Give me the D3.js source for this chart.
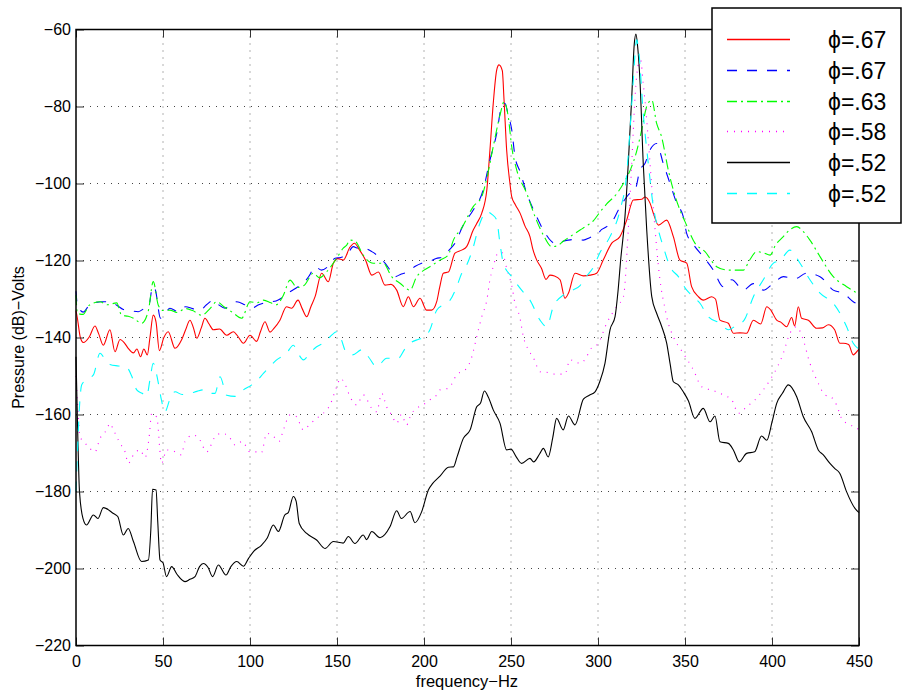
<!DOCTYPE html>
<html>
<head>
<meta charset="utf-8">
<script src="https://cdn.jsdelivr.net/npm/d3@7"></script>
<style>
  body { margin: 0; background: #fff; }
  svg { display: block; font-family: "Liberation Sans", Arial, sans-serif; }
  .tick line { stroke: #333; }
</style>
</head>
<body>
<div id="chart"></div>
<script>
// tick labels
const xTicks = [0, 50, 100, 150, 200, 250, 300, 350, 400, 450];
const yTicks = [-220, -200, -180, -160, -140, -120, -100, -80, -60];

// legend labels, one per series (same order as series below)
const labels = ['\u03d5=.67', '\u03d5=.67', '\u03d5=.63', '\u03d5=.58', '\u03d5=.52', '\u03d5=.52'];

// series values: [frequency Hz, pressure dB]
const red67 = [[0,-133],[0.8,-135],[2.5,-140],[4.2,-141.3],[7.7,-139.8],[10.9,-137],[13,-139],[15.7,-142],[19.5,-138],[22.4,-143.7],[25.3,-140.5],[28,-141.5],[30,-142.8],[33,-144],[35,-143],[37.1,-145],[39,-143],[41,-144.5],[42.5,-140],[44.4,-134.2],[46,-136],[47.9,-143.4],[50.5,-140],[53,-138.5],[56.9,-142.8],[60.7,-140.6],[63,-138],[65.5,-135.5],[67.5,-137.5],[69.4,-140.2],[72,-137.5],[74.1,-135],[76.5,-136.5],[78.9,-138],[82.5,-137.8],[86.6,-139.4],[90.4,-138.5],[93.5,-140],[96.2,-141.5],[100,-139.4],[103.8,-141],[106,-138.5],[108.6,-135.9],[111.5,-138.6],[114,-137.5],[117.2,-135.5],[121,-132],[123.9,-132.4],[127.6,-130.3],[130,-132.5],[132.6,-134.6],[135,-132],[137.4,-129.4],[141.2,-123.3],[145,-125.5],[147.9,-120.7],[150.5,-119.5],[153.6,-119.9],[157.5,-116.5],[160,-115.5],[163,-117.3],[166.5,-120],[170,-123.8],[173.8,-123],[177.6,-126.4],[181,-126.2],[184.3,-127.7],[188.1,-132],[191,-129.4],[193.9,-132],[197.7,-129.8],[201.5,-132.9],[204.4,-132.9],[207.3,-130.7],[209,-127],[211.1,-123.3],[214,-123],[217.8,-118.1],[221.6,-117.3],[224.5,-116.4],[228.3,-112.1],[230.3,-110.4],[233.2,-107.7],[236.1,-101.7],[237.9,-91.3],[239.8,-79.2],[241.8,-70.5],[243.1,-69.2],[245,-70.7],[246,-78.3],[247.5,-91.3],[249.4,-100],[250.4,-103.4],[252.5,-105.5],[255.2,-107.7],[258,-111],[260.9,-113.8],[262.5,-117],[264.8,-119.9],[267.5,-122],[270.1,-124.9],[272.4,-123.8],[275,-124],[278.2,-125],[281,-129.8],[283,-128.5],[286.8,-123.3],[291.6,-124],[295.5,-123.8],[299.2,-123.3],[303,-119.9],[307.9,-115.5],[312.6,-113.8],[316.5,-109.5],[320.3,-104.3],[325.1,-104.1],[327,-103.5],[329.9,-105.1],[332,-108],[334.7,-110.8],[339.5,-109.5],[343.3,-113.8],[347.1,-119.9],[351,-120.7],[353.8,-126.8],[357.7,-129.4],[360.5,-130.3],[365.3,-129.4],[367.5,-130],[370.1,-135.5],[374.9,-136.3],[377.8,-138.9],[381.6,-138.8],[385.4,-138.9],[389.3,-135.5],[393.5,-136.5],[397,-132],[399.5,-133],[402.7,-135.5],[405,-136],[408.4,-137.2],[411.3,-134.8],[413,-137],[415.1,-132],[417,-135],[420.9,-135.5],[425.7,-137.6],[429,-137.5],[432.4,-136.7],[436,-138],[439,-141.5],[441,-141.5],[444,-141.8],[446.7,-144.5],[449.6,-143.2],[450,-143]];

const blue67 = [[0,-128],[0.8,-131.6],[4.2,-133.4],[7,-132],[10,-131.1],[14.8,-130.7],[19.5,-130.7],[23.4,-131.6],[27.2,-132.7],[31,-133],[35.8,-133.3],[39,-132.5],[42,-131.5],[44,-126.8],[45.5,-127.5],[48.6,-135],[51,-134],[54,-132.4],[58.8,-133.3],[63,-132],[67,-132.5],[71.3,-132.9],[75,-131.5],[78.9,-130.3],[82,-131.5],[85.6,-132.4],[89,-131.5],[92.4,-130.7],[97,-131.5],[101,-132.4],[105,-131.5],[110,-130.8],[115,-130.5],[119,-129.5],[123,-128.1],[127,-127],[130.7,-125.9],[134,-124],[137.4,-121.6],[141,-122.5],[145,-121.5],[148.9,-119.4],[152,-119.2],[155.6,-118.6],[159.4,-116.4],[162,-116.8],[165,-116.8],[170,-117.7],[174,-119],[177.6,-120.7],[180.5,-122.5],[183.3,-124.2],[187,-123.5],[191,-122.9],[195,-121.5],[198.7,-120.7],[203,-120.3],[207,-119.5],[211.1,-119],[214,-117.5],[217.8,-115.5],[222.6,-110.8],[228.3,-106.9],[234,-101.7],[237.9,-93.9],[241.8,-87],[244.6,-80],[246.5,-79.2],[248.4,-82.2],[250.4,-86],[252.3,-93],[255.2,-96.9],[259,-102.5],[263.8,-107.7],[268.6,-112.1],[273.4,-115.1],[276.2,-115.8],[280,-115],[283,-114.7],[287,-114.5],[291.6,-114.7],[295.5,-114],[299.2,-113.4],[302,-112],[305,-111.2],[308,-110],[311.7,-106.9],[314.6,-104.7],[318.4,-102.5],[321.3,-101.7],[324.1,-96.5],[327,-94.8],[329.9,-91.3],[333.7,-89.6],[337.5,-94.8],[341.4,-100],[345.2,-105.1],[349,-108.6],[351,-113],[355.7,-116.4],[360.5,-119],[366.3,-122.5],[372,-126.8],[376.9,-125],[383.5,-127.7],[389.3,-126],[395,-127.7],[400.8,-125.9],[406.5,-124.2],[413,-124.8],[419.9,-123.3],[427.6,-124.2],[435.2,-127.7],[441,-128.5],[446.7,-130.7],[450,-131.5]];

const green63 = [[0,-129],[0.8,-133.7],[4,-134],[7.7,-131.6],[13.8,-130.7],[18,-131.5],[23.4,-131],[26.2,-134.2],[30,-134.5],[33,-135],[37.7,-136.3],[41.6,-133],[44.4,-125.5],[47.3,-131.6],[50,-133],[54,-132.9],[58,-133.5],[63,-132.5],[67,-133],[72.2,-134.2],[77,-132.5],[80.9,-130.7],[85,-132],[90,-133.5],[95.2,-135],[100,-130.7],[104,-131],[107.7,-130.3],[112,-131],[115,-131.5],[119.2,-129],[123,-125.1],[127,-127],[131,-126.5],[136.4,-123.3],[140,-124.5],[144.1,-122.9],[149.8,-119.4],[153.6,-116.8],[155.6,-116],[157.5,-114.7],[160.5,-115],[165,-118.6],[170.9,-120.7],[176.6,-120.7],[181.4,-124.2],[186.2,-125.9],[192,-127.7],[195.8,-124.2],[200,-122.5],[203.4,-121.6],[209.2,-119.9],[213.9,-118.6],[216.9,-114.7],[221.6,-111.6],[228.3,-106],[233.2,-103.4],[236.1,-98.6],[239.8,-90.4],[243.7,-82.2],[246,-78.8],[248.4,-82.6],[250.4,-90.4],[253.3,-96.5],[259,-102.5],[263.8,-108.6],[268.6,-113.4],[273.4,-116.4],[276.5,-116.2],[280,-115],[283.9,-113.8],[289.7,-112.1],[293.5,-111],[297.3,-109.7],[301,-107.5],[305,-105.3],[310.7,-102.7],[315.5,-99.3],[319,-96],[322,-92],[325.1,-86.1],[328,-80],[330.9,-78.3],[333.7,-84.4],[336.5,-87.8],[340.4,-96.5],[343.3,-101.7],[347.1,-106.9],[350,-109.9],[355.7,-115.5],[361.5,-117.7],[368.2,-121.6],[374.9,-122.5],[383.5,-122.5],[387,-120],[391.2,-117.7],[395,-118],[398.9,-118.6],[402,-116],[406.5,-113.8],[410.3,-112],[414.2,-111.2],[418,-112.5],[421.8,-114.7],[427.6,-119],[435.2,-124.2],[442.9,-126.8],[448.7,-128.5],[450,-129]];

const magenta58 = [[0,-150],[1,-158],[2.3,-165.8],[4.5,-167],[7.1,-168.4],[10.9,-169.7],[13.8,-166.2],[17.6,-164],[19.5,-162.3],[21.5,-164],[25.3,-167.5],[28.2,-169.7],[30,-172.7],[33,-170.5],[36.8,-169.2],[39.7,-171.2],[42,-166],[43.5,-159.7],[46.4,-160.7],[49.2,-172.7],[52.1,-169.2],[56,-169.5],[60.5,-170.5],[62.6,-167.1],[67.4,-165.3],[71,-166.5],[75.1,-169.7],[79.9,-165.8],[83.7,-164.9],[87.5,-165.5],[91.4,-167.9],[95.5,-167],[100,-169.7],[103.5,-169.7],[106.5,-170],[109.6,-164.9],[113,-165.5],[116.7,-167],[119.2,-164],[123,-160.1],[126.5,-160.5],[130.7,-164],[134.5,-162.5],[138.3,-161],[142.1,-159.7],[146,-157.5],[149.8,-152.8],[152,-150.6],[154.5,-152],[157.5,-155.4],[161.3,-157.5],[165.1,-154.9],[170,-158.4],[172.8,-159.3],[175.7,-154.5],[178.5,-158],[181.4,-160.1],[184.3,-162.3],[187,-160],[190,-162.7],[192.5,-160],[195.8,-158.4],[199.5,-157.5],[203.4,-156.2],[207.3,-154.9],[209.2,-153.6],[214,-153.2],[218.8,-149.7],[224.5,-148],[227.5,-145],[230.3,-139.8],[233.2,-134.6],[236.1,-130.3],[237.9,-125],[239.8,-121.6],[242.7,-118],[245,-118],[247.5,-122],[250.4,-126.5],[252.3,-131.1],[255,-134.6],[257.1,-139.8],[260,-143.2],[263,-145.4],[266.7,-148.9],[270,-149],[275,-149.5],[281,-149.5],[283.9,-145.8],[289.7,-146.7],[293.5,-145],[295.4,-143.2],[300.2,-141.5],[305,-136.3],[310.7,-132],[314.6,-129.4],[317.4,-112],[319.4,-94.8],[321.3,-77.5],[323.2,-69],[324.5,-68],[326,-74],[328,-83.5],[329.9,-94.8],[332.8,-112],[335.6,-125],[338.5,-132.5],[340.4,-136.3],[343.5,-140],[349,-144.1],[354.8,-148.4],[359.6,-152.8],[366.3,-153.8],[372,-154.9],[376.9,-156.2],[380.7,-159.7],[385.4,-158],[390.2,-156.2],[395,-153.6],[398.9,-151],[402.7,-148],[406.5,-144.1],[410.3,-138.9],[414.2,-137.2],[417.5,-140],[421.8,-146.7],[425.7,-151],[430.5,-154.9],[434,-155.5],[437.1,-157.5],[440,-161],[444.8,-162.7],[447.7,-163.2],[450,-164]];

const black52 = [[0,-145],[1,-165],[2,-180],[4,-187],[6,-188.7],[10,-186.1],[12.6,-187],[15.7,-184.2],[21.5,-185.7],[24,-186.5],[27.2,-191.3],[30,-189.6],[33,-193],[37.7,-198.2],[41.6,-197.8],[43,-190],[44,-179.4],[46,-179.6],[47,-188],[48.3,-197.8],[50,-198.5],[52,-202.1],[55,-199.5],[58,-201.5],[62.6,-203.4],[65.5,-202.8],[68.4,-202.1],[71,-199.5],[73.2,-198.7],[76,-199.8],[78.5,-202.1],[81.8,-199.1],[86.2,-201.7],[89,-199.5],[92.4,-198.2],[96.2,-199.4],[99,-197.5],[102,-195.6],[106.7,-193.9],[110,-192],[113.4,-188.7],[116.3,-190.4],[120,-186.1],[122,-185.5],[124.9,-181.3],[126.5,-182.5],[128.3,-188.3],[132.6,-190.9],[138.3,-192.6],[143.1,-194.8],[147.9,-193],[153.6,-193.4],[156.5,-191.7],[160.3,-193.5],[165.1,-191.3],[167,-192.5],[170,-190.4],[174.7,-192],[180.5,-189.1],[184.3,-185],[187,-187],[192,-185.2],[194.8,-188.1],[198.7,-185.2],[202.5,-179.6],[205,-177.9],[209.2,-176],[214,-173.7],[216.9,-173.6],[219,-171],[222.6,-166.2],[226.5,-164],[230.3,-158],[232.5,-157],[234.7,-153.9],[237,-155.5],[239.8,-158.8],[243.7,-162.3],[247.5,-169.2],[250,-169],[253,-171],[256.1,-172.7],[260.9,-171.4],[263,-172.3],[266.5,-170.2],[268.6,-168.8],[271.4,-171],[274,-166],[276.2,-161],[280,-164],[283,-160.4],[286.8,-162.7],[291.6,-156],[295,-155],[298.3,-154.1],[301,-151.5],[304,-146.7],[306.9,-138],[309.8,-134.6],[311.5,-128],[313,-120],[315.5,-108.6],[317.4,-94.8],[319.4,-77.5],[320.8,-64],[321.8,-61.2],[322.9,-65],[324.1,-73.1],[326,-94.8],[328,-112],[330.9,-129.4],[333.7,-133.7],[336.5,-137],[339.5,-141.5],[341.5,-147],[343.3,-151.5],[346.2,-152.3],[349,-154.1],[352,-156.5],[355.7,-161],[360.5,-158.4],[364.4,-161.9],[367.2,-160.4],[370.1,-167.1],[374.9,-167.5],[377.8,-169.2],[381.2,-172.3],[385.4,-170.1],[390,-169.7],[394,-165.6],[397,-166.7],[400,-162],[402.7,-157.1],[406,-154.5],[409.4,-152.3],[414.2,-155.4],[418,-160.6],[422.8,-164.5],[426.6,-169.2],[429.5,-170.5],[433.3,-172.7],[436,-174],[439,-175.3],[442.9,-180.1],[447.7,-184.4],[450,-185.5]];

const cyan52 = [[0,-180],[1,-168],[2,-158],[3.3,-152.3],[6,-151],[10,-149.7],[13.8,-144.1],[16.5,-145.5],[19.5,-147],[24.3,-147.4],[29,-147.7],[32,-150],[34.9,-153.6],[38,-154.5],[40.6,-155.3],[42.5,-151],[44.4,-146.7],[47.3,-151.8],[49,-156],[51.1,-159.3],[54,-156],[56.9,-154.1],[61,-154.8],[65.5,-154.5],[69.5,-154],[73.2,-153.6],[76.5,-154.5],[79.9,-154.5],[82.8,-150.2],[86.6,-155],[91.4,-155.3],[96.2,-153.6],[101,-152.3],[104.5,-151],[107.7,-149.3],[111.5,-147.5],[115.3,-145.8],[121,-144.1],[124.9,-142],[127.5,-144],[130.7,-145.8],[134.5,-144],[138.3,-142.4],[142,-141.5],[146,-139.8],[149.8,-138.5],[152,-140],[155.6,-144.1],[159,-144.5],[164.2,-143.2],[168,-145],[172.8,-147.6],[178.6,-145.4],[185.2,-145.4],[189,-143],[192,-141.5],[196.7,-140.5],[200,-140],[203.4,-138],[207.3,-132.9],[211,-131.5],[215,-130.3],[218.8,-126.8],[221.5,-123.5],[224.5,-121.2],[228,-117],[232,-110.5],[236.1,-107.3],[239,-108],[241.8,-109.5],[243.5,-115],[245.6,-120.7],[250.4,-124.2],[256.1,-127.7],[260.9,-130.3],[266.7,-135.5],[270.5,-137.2],[274.3,-132],[280,-129],[284,-128],[289.7,-126.5],[293.5,-124],[297,-122],[301.1,-118],[306.9,-113.8],[312.6,-107],[316.5,-97.5],[318.4,-86.1],[320.3,-73.1],[322.2,-62.7],[323.5,-66],[326,-81.8],[328.9,-94.8],[331.8,-106],[334.7,-112.1],[337.5,-116.4],[341.4,-121.6],[346.2,-124.2],[351,-127.7],[355,-129.5],[358.6,-131.1],[363.4,-134.6],[370.1,-136.3],[374.9,-138],[379,-137],[384,-135.5],[389.3,-129.4],[395,-125],[400.8,-120.7],[404.6,-120],[410.3,-117.3],[416.1,-120.7],[421.8,-125],[427.6,-128.5],[435.2,-131.1],[442.9,-137.2],[446.7,-141.5],[450,-143]];

const series = [
  { values: red67, color: '#ff0000', dash: null },
  { values: blue67, color: '#0000ff', dash: '10,10' },
  { values: green63, color: '#00ff00', dash: '10,4,2,4' },
  { values: magenta58, color: '#ff00ff', dash: '1,6' },
  { values: black52, color: '#000000', dash: null },
  { values: cyan52, color: '#00ffff', dash: '10,10' },
];

const width = 902;
const height = 696;
const margin = { top: 29.5, right: 43, bottom: 50.5, left: 76 };
const plotW = width - margin.left - margin.right;
const plotH = height - margin.top - margin.bottom;
const font = '"Liberation Sans", Arial, sans-serif';

const svg = d3.select('#chart').append('svg')
  .attr('width', width)
  .attr('height', height);

const x = d3.scaleLinear().domain([0, 450]).range([0, plotW]);
const y = d3.scaleLinear().domain([-220, -60]).range([plotH, 0]);

const g = svg.append('g')
  .attr('transform', `translate(${margin.left}, ${margin.top})`);

// dotted grid
g.append('g').selectAll('line')
  .data(xTicks.slice(1, -1))
  .enter().append('line')
  .attr('x1', (d) => x(d)).attr('x2', (d) => x(d))
  .attr('y1', 0).attr('y2', plotH)
  .attr('stroke', '#666').attr('stroke-dasharray', '1,6');
g.append('g').selectAll('line')
  .data(yTicks.slice(1, -1))
  .enter().append('line')
  .attr('x1', 0).attr('x2', plotW)
  .attr('y1', (d) => y(d)).attr('y2', (d) => y(d))
  .attr('stroke', '#444').attr('stroke-dasharray', '1,6');

// curves
const line = d3.line()
  .x((d) => x(d[0]))
  .y((d) => y(d[1]))
  .curve(d3.curveMonotoneX);

g.selectAll('.series')
  .data(series)
  .enter().append('path')
  .attr('class', 'series')
  .attr('d', (d) => line(d.values))
  .attr('fill', 'none')
  .attr('stroke', (d) => d.color)
  .attr('stroke-width', 1.1)
  .attr('stroke-dasharray', (d) => d.dash);

// axes, ticks drawn inward on all four sides
const minus = (d) => String(d).replace('-', '\u2212');
const styleAxis = (a) => {
  a.select('.domain').remove();
  a.attr('font-family', font).attr('font-size', 16);
  a.selectAll('text').attr('fill', '#000');
};
g.append('g')
  .attr('transform', `translate(0, ${plotH})`)
  .call(d3.axisBottom(x).tickValues(xTicks).tickSizeInner(-8).tickSizeOuter(0).tickPadding(10))
  .call(styleAxis);
g.append('g')
  .call(d3.axisTop(x).tickValues(xTicks).tickSizeInner(-8).tickSizeOuter(0).tickFormat(''))
  .call(styleAxis);
g.append('g')
  .call(d3.axisLeft(y).tickValues(yTicks).tickSizeInner(-8).tickSizeOuter(0).tickPadding(5).tickFormat(minus))
  .call(styleAxis);
g.append('g')
  .attr('transform', `translate(${plotW}, 0)`)
  .call(d3.axisRight(y).tickValues(yTicks).tickSizeInner(-8).tickSizeOuter(0).tickFormat(''))
  .call(styleAxis);

g.append('rect')
  .attr('width', plotW).attr('height', plotH)
  .attr('fill', 'none').attr('stroke', '#000').attr('stroke-width', 1.5);

// axis titles
svg.append('text')
  .attr('x', 467)
  .attr('y', 687)
  .attr('text-anchor', 'middle')
  .attr('font-size', 16.5)
  .text('frequency\u2212Hz');
svg.append('text')
  .attr('transform', `translate(24, ${margin.top + plotH / 2}) rotate(-90)`)
  .attr('text-anchor', 'middle')
  .attr('font-size', 16)
  .text('Pressure (dB)\u2212Volts');

// legend
const legend = svg.append('g').attr('transform', 'translate(712, 8)');
legend.append('rect')
  .attr('width', 189).attr('height', 215)
  .attr('fill', '#fff').attr('stroke', '#000').attr('stroke-width', 1.5);
const item = legend.selectAll('.item')
  .data(series)
  .enter().append('g')
  .attr('class', 'item')
  .attr('transform', (d, i) => `translate(0, ${Math.round(31 + i * 30.8) + 0.5})`);
item.append('line')
  .attr('x1', 15).attr('x2', 78)
  .attr('stroke', (d) => d.color)
  .attr('stroke-width', 1.3)
  .attr('stroke-dasharray', (d) => d.dash);
item.append('text')
  .attr('x', 116)
  .attr('y', 8.5)
  .attr('font-size', 23)
  .text((d, i) => labels[i]);
</script>
</body>
</html>
